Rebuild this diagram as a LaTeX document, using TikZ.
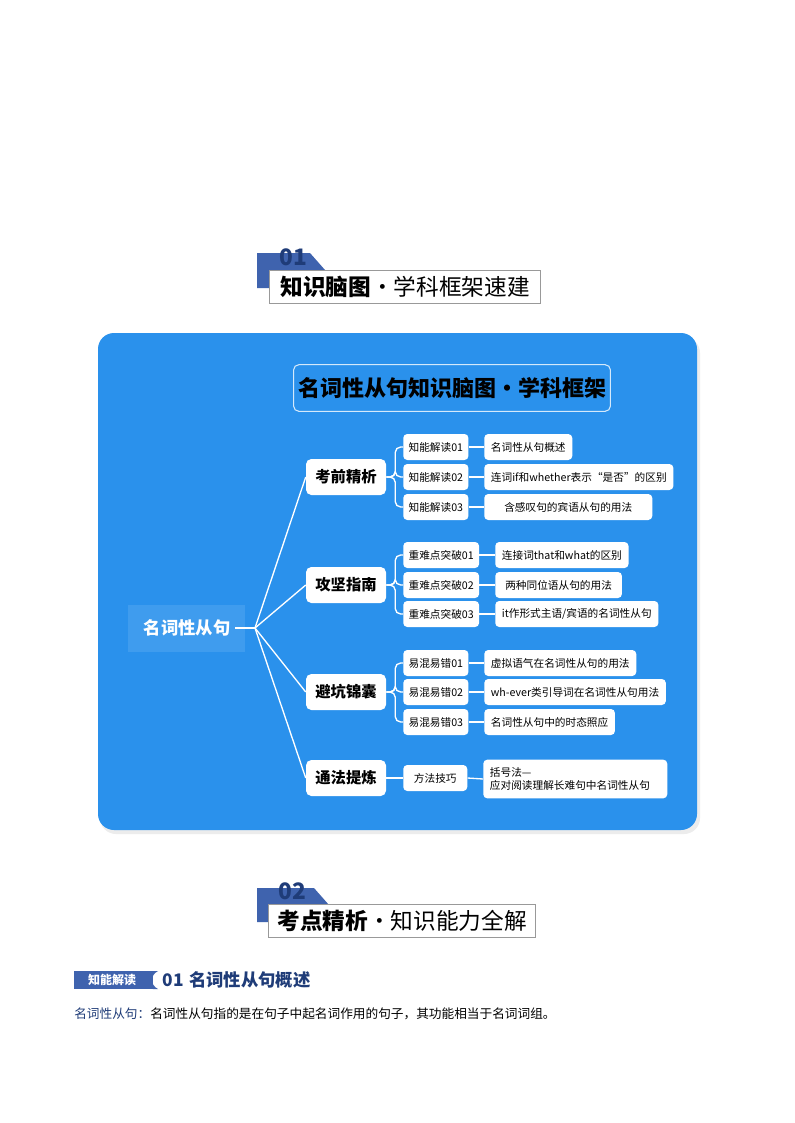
\documentclass[tikz,border=0pt]{standalone}
\usepackage{fontspec}
\setmainfont{Noto Sans CJK SC}
\newfontfamily\cjkb[BoldFont={Noto Sans CJK SC Bold}]{Noto Sans CJK SC}
\definecolor{mainblue}{HTML}{2A91EC}
\definecolor{navy}{HTML}{1F3C78}
\definecolor{hdrblue}{HTML}{3F63AE}
\tikzset{
 px/.style={x=0.75pt,y=-0.75pt},
 lone/.style={fill=white,rounded corners=4pt,minimum width=60pt,minimum height=27pt,font=\fontsize{11.5}{13}\selectfont\bfseries,text=black},
 ltwo/.style={fill=white,rounded corners=3pt,minimum height=19.5pt,inner xsep=4pt,anchor=west,font=\fontsize{8}{10}\selectfont,text=black},
 lthree/.style={fill=white,rounded corners=3pt,minimum height=19.5pt,inner xsep=5pt,anchor=west,font=\fontsize{8}{10}\selectfont,text=black,align=left},
 wline/.style={white,line width=1pt},
}
\begin{document}
\begin{tikzpicture}[px]
\useasboundingbox[fill=white] (0,0) rectangle (794,1123);
% header 01
\fill[hdrblue] (257,253) -- (310,253) -- (325,270) -- (269,270) -- (269,288) -- (257,288) -- cycle;
\node[font=\fontsize{17}{17}\selectfont\bfseries,text=navy] (n01) at (293,257) {01};
\node[draw=gray!80,fill=white,minimum width=203pt,minimum height=25pt,inner sep=0pt,font=\fontsize{17}{17}\selectfont] (h1) at (405,287) {\textbf{知识脑图}·学科框架速建};
% main box
\fill[gray!15,rounded corners=12pt] (100,337) rectangle (700,834);
\fill[mainblue,rounded corners=12pt] (98,333) rectangle (697,830);
\node[draw=white!80!mainblue,line width=0.8pt,rounded corners=4pt,minimum width=229pt,minimum height=35pt,font=\fontsize{16.5}{17}\selectfont\bfseries,text=black] (title) at (452,388) {名词性从句知识脑图•学科框架};
\fill[mainblue!90!white] (128,605) rectangle (245,652);
\node[font=\fontsize{13}{14}\selectfont\bfseries,text=white] (root) at (187,628) {名词性从句};
\coordinate (j) at (255,628);
\draw[wline] (root.east) -- (j);
\node[lone] (a) at (346,477) {考前精析};
\node[lone] (b) at (346,585) {攻坚指南};
\node[lone] (c) at (346,692) {避坑锦囊};
\node[lone] (d) at (346,778) {通法提炼};
\foreach \n in {a,b,c,d} \draw[wline] (j) -- (\n.west);
% level 2
\node[ltwo] (a1) at (403,447) {知能解读01};
\node[ltwo] (a2) at (403,477) {知能解读02};
\node[ltwo] (a3) at (403,507) {知能解读03};
\node[ltwo] (b1) at (403,555) {重难点突破01};
\node[ltwo] (b2) at (403,585) {重难点突破02};
\node[ltwo] (b3) at (403,614) {重难点突破03};
\node[ltwo] (c1) at (403,663) {易混易错01};
\node[ltwo] (c2) at (403,692) {易混易错02};
\node[ltwo] (c3) at (403,722) {易混易错03};
\node[ltwo,minimum width=48pt,align=left] (d1) at (403,778) {方法技巧\hfill};
\foreach \p/\k in {a/a1,a/a2,a/a3,b/b1,b/b2,b/b3,c/c1,c/c2,c/c3}
 \draw[wline,rounded corners=4pt] (\p.east) -- ++(9,0) |- (\k.west);
\draw[wline] (d.east) -- (d1.west);
% level 3
\node[lthree] (a1x) at (484,447) {名词性从句概述};
\node[lthree] (a2x) at (484,477) {连词if和whether表示“是否”的区别};
\node[lthree,minimum width=126pt] (a3x) at (484,507) {含感叹句的宾语从句的用法\hfill};
\node[lthree] (b1x) at (495,555) {连接词that和what的区别};
\node[lthree,minimum width=95pt] (b2x) at (495,585) {两种同位语从句的用法\hfill};
\node[lthree] (b3x) at (495,614) {it作形式主语/宾语的名词性从句};
\node[lthree] (c1x) at (484,663) {虚拟语气在名词性从句的用法};
\node[lthree] (c2x) at (484,692) {wh-ever类引导词在名词性从句用法};
\node[lthree] (c3x) at (484,722) {名词性从句中的时态照应};
\node[lthree,text width=128pt,minimum height=29pt] (d1x) at (483,779) {括号法—应对阅读理解长难句中名词性从句};
\foreach \s in {a1,a2,a3,b1,b2,b3,c1,c2,c3,d1}
 \draw[wline] (\s.east) -- (\s x.west);
% header 02
\fill[hdrblue] (257,888) -- (314,888) -- (329,905) -- (269,905) -- (269,922) -- (257,922) -- cycle;
\node[font=\fontsize{17}{17}\selectfont\bfseries,text=navy] (n02) at (292,891) {02};
\node[draw=gray!80,fill=white,minimum width=200pt,minimum height=25pt,inner sep=0pt,font=\fontsize{17}{17}\selectfont] (h2) at (402,921) {\textbf{考点精析}·知识能力全解};
% section label
\fill[hdrblue] (74,971) rectangle (153,989);
\fill[hdrblue] (153,971) .. controls (145,975) and (145,985) .. (153,989) -- (158,989) .. controls (150,985) and (150,975) .. (158,971) -- cycle;
\node[text=white,font=\fontsize{9}{9}\selectfont\bfseries] (lab) at (112,980) {知能解读};
\node[anchor=west,text=navy,font=\fontsize{13}{13}\selectfont\bfseries] (sec) at (158,980) {01\hspace{4pt}名词性从句概述};
\node[anchor=west,inner sep=0pt,font=\fontsize{9.5}{10}\selectfont] (para) at (74,1014) {\textcolor{navy}{名词性从句：}名词性从句指的是在句子中起名词作用的句子，其功能相当于名词词组。};
\end{tikzpicture}
\end{document}
